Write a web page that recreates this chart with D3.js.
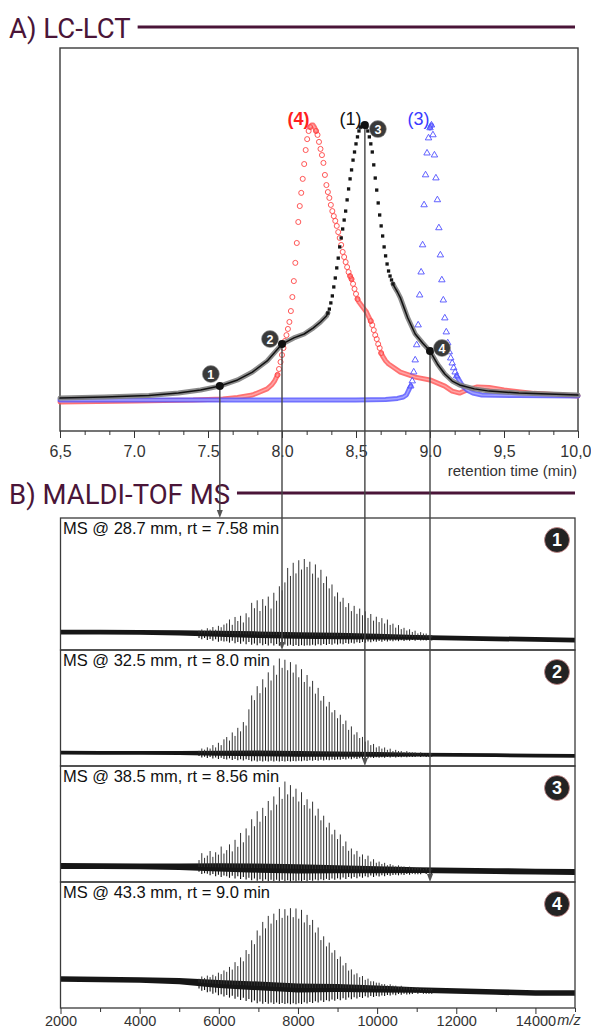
<!DOCTYPE html>
<html>
<head>
<meta charset="utf-8">
<script src="https://cdn.jsdelivr.net/npm/d3@7"></script>
<style>
  body { margin: 0; background: #fff; }
  svg { display: block; font-family: "Liberation Sans", Arial, sans-serif; }
  .section { font-family: Roboto, "Liberation Sans", sans-serif; font-size: 27.5px; fill: #4a1538; }
  .tick text { fill: #333; }
  .tick line { stroke: #333; }
</style>
</head>
<body>
<div id="chart"></div>
<script>
// ---- A) LC-LCT traces: [retention time (min), intensity (% of max)]
const trace1 = [[6.5,2.1],[6.8,2.5],[7.1,3.0],[7.3,3.9],[7.45,5.0],[7.58,6.4],[7.7,8.6],[7.8,11.4],[7.9,15.4],[8.0,21.4],[8.08,23.6],[8.15,25.0],[8.21,27.1],[8.26,29.3],[8.3,31.4],[8.31,32.5],[8.32,33.9],[8.33,36.1],[8.34,38.6],[8.35,41.8],[8.36,45.0],[8.37,48.6],[8.38,52.1],[8.39,56.1],[8.4,59.3],[8.41,62.5],[8.42,65.7],[8.43,68.9],[8.44,72.9],[8.45,76.8],[8.46,80.4],[8.47,83.6],[8.48,87.1],[8.49,90.0],[8.5,92.9],[8.51,95.4],[8.52,97.5],[8.53,98.9],[8.54,99.6],[8.55,100],[8.56,99.6],[8.57,98.9],[8.58,97.5],[8.59,95.4],[8.6,92.9],[8.61,90.0],[8.62,85.4],[8.63,80.7],[8.64,76.4],[8.65,71.8],[8.66,67.5],[8.67,63.6],[8.68,60.0],[8.69,56.1],[8.7,52.9],[8.71,50.0],[8.72,47.5],[8.73,45.7],[8.74,44.3],[8.75,42.9],[8.76,41.8],[8.78,40.0],[8.8,37.9],[8.85,30.7],[8.9,25.0],[8.95,21.8],[9.0,18.9],[9.05,14.3],[9.1,10.7],[9.15,8.2],[9.2,6.8],[9.3,5.4],[9.4,4.6],[9.6,3.9],[9.8,3.6],[10.0,3.2]];
const trace4 = [[6.5,0.7],[7.0,1.1],[7.4,1.4],[7.6,1.8],[7.7,2.3],[7.8,3.2],[7.85,4.3],[7.9,5.4],[7.93,6.8],[7.94,7.5],[7.95,8.2],[7.96,9.3],[7.97,10.4],[7.98,12.5],[7.99,15.0],[8.0,17.5],[8.01,20.0],[8.02,22.5],[8.03,24.6],[8.04,26.8],[8.05,29.3],[8.06,33.2],[8.07,38.2],[8.08,43.9],[8.09,50.4],[8.1,57.5],[8.11,65.0],[8.12,70.7],[8.13,75.4],[8.14,80.4],[8.15,85.7],[8.16,90.7],[8.17,94.6],[8.18,97.5],[8.19,98.9],[8.2,99.6],[8.21,99.6],[8.22,98.8],[8.23,97.5],[8.24,96.1],[8.25,93.6],[8.26,91.1],[8.27,88.9],[8.28,86.1],[8.29,81.8],[8.3,78.2],[8.31,75.7],[8.32,73.6],[8.33,71.1],[8.34,68.9],[8.35,67.1],[8.36,65.4],[8.37,63.6],[8.38,61.4],[8.39,59.3],[8.4,56.8],[8.41,54.3],[8.42,52.5],[8.43,50.7],[8.44,48.9],[8.45,47.1],[8.46,45.7],[8.47,44.6],[8.48,42.9],[8.49,41.1],[8.5,39.3],[8.51,37.5],[8.52,36.4],[8.53,35.7],[8.54,35.0],[8.55,34.3],[8.56,33.6],[8.57,32.9],[8.58,31.8],[8.59,30.7],[8.6,29.6],[8.61,28.2],[8.62,26.4],[8.63,24.6],[8.64,23.2],[8.65,21.4],[8.66,20.0],[8.67,18.2],[8.68,17.1],[8.7,15.4],[8.72,14.3],[8.75,13.2],[8.8,11.4],[8.9,9.6],[9.0,8.6],[9.1,6.4],[9.15,4.6],[9.2,3.9],[9.25,5.0],[9.32,6.1],[9.4,5.9],[9.5,5.0],[9.7,3.8],[10.0,2.9]];
const trace3 = [[6.5,1.4],[7.5,1.4],[8.0,1.4],[8.5,1.4],[8.7,1.6],[8.78,2.0],[8.82,2.5],[8.84,3.2],[8.85,4.3],[8.86,5.4],[8.87,6.4],[8.88,8.2],[8.89,11.4],[8.9,15.7],[8.91,21.1],[8.92,28.2],[8.93,38.9],[8.94,47.1],[8.95,56.8],[8.96,71.1],[8.97,81.8],[8.98,89.6],[8.99,95.0],[9.0,98.6],[9.01,99.6],[9.02,96.1],[9.03,88.9],[9.04,80.7],[9.05,72.9],[9.06,62.9],[9.07,53.2],[9.08,44.3],[9.09,37.1],[9.1,30.7],[9.11,25.7],[9.12,21.8],[9.13,18.6],[9.14,16.4],[9.15,14.6],[9.16,12.9],[9.17,11.4],[9.18,10.0],[9.2,8.2],[9.22,6.4],[9.25,5.0],[9.29,3.9],[9.35,3.2],[9.6,3.0],[10.0,2.9]];

const rtTicks = [6.5, 7.0, 7.5, 8.0, 8.5, 9.0, 9.5, 10.0];
const rtLabels = ["6,5", "7.0", "7.5", "8.0", "8,5", "9.0", "9,5", "10,0"];

// ---- B) MALDI-TOF spectra, one entry per fraction
const msRt = [7.58, 8.0, 8.56, 9.0];
const msLabels = ["MS @ 28.7 mm, rt = 7.58 min", "MS @ 32.5 mm, rt = 8.0 min", "MS @ 38.5 mm, rt = 8.56 min", "MS @ 43.3 mm, rt = 9.0 min"];

const mzGrid = [2000, 3000, 4000, 5000, 6000, 7000, 8000, 9000, 10000, 11000, 12000, 13000, 14000, 15000];
const msBase = [
  [13.6, 13.5, 13.3, 13.0, 12.3, 11.6, 11.0, 10.6, 10.2, 9.6, 9.0, 8.5, 8.0, 7.5],
  [11.5, 11.4, 11.3, 11.2, 11.0, 10.8, 10.5, 10.2, 10.0, 9.8, 9.6, 9.3, 9.0, 8.8],
  [13.8, 13.6, 13.4, 13.2, 12.6, 12.0, 11.4, 11.0, 10.6, 10.2, 9.8, 9.4, 9.0, 8.6],
  [23.0, 22.6, 22.2, 21.4, 19.0, 17.5, 15.9, 15.9, 15.1, 14.3, 13.5, 12.7, 11.9, 11.9]
];
const msNoiseUp = [
  [1.8, 1.8, 1.8, 2.0, 2.2, 2.5, 2.5, 2.5, 2.2, 1.8, 1.8, 1.8, 1.8, 1.8],
  [1.6, 1.6, 1.6, 1.8, 2.2, 2.5, 2.5, 2.2, 2.0, 1.6, 1.6, 1.6, 1.6, 1.6],
  [2.5, 2.5, 2.5, 2.8, 3.5, 4.0, 4.0, 3.5, 3.0, 2.5, 2.5, 2.5, 2.5, 2.5],
  [2.2, 2.2, 2.2, 2.5, 3.2, 3.5, 3.5, 3.2, 2.8, 2.2, 2.2, 2.2, 2.2, 2.2]
];
const msNoiseDown = [
  [1.8, 1.8, 1.8, 2.5, 6, 8, 8, 6.5, 4, 2.5, 1.8, 1.8, 1.8, 1.8],
  [1.6, 1.6, 1.6, 2, 5, 7, 6.5, 5, 3, 2, 1.6, 1.6, 1.6, 1.6],
  [2.5, 2.5, 2.5, 3.5, 8, 11, 11, 9, 6, 3.5, 2.5, 2.5, 2.5, 2.5],
  [2.2, 2.2, 2.2, 3, 9, 14, 13, 10, 6, 3, 2.2, 2.2, 2.2, 2.2]
];

// oligomer peak heights above baseline, m/z 5500, 5570, 5640 ... (repeat unit 70)
const peakStart = 5500, peakStep = 70;
const msPeaks = [
  [2,3,2,4,3,5,3,6,5,7, 8,11,7,13,10,14,9,16,13,24, 20,26,18,27,22,29,20,32,26,37, 34,40,51,45,55,47,57,50,58,52,
   56,47,54,44,50,40,45,36,39,30, 33,26,29,22,25,19,23,17,21,16, 19,14,17,12,15,11,14,10,13,9, 10,7,9,6,7,5,6,4,5,3,4,3,3,2,2],
  [2,4,3,5,4,7,5,9,7,12, 14,11,18,15,22,19,27,24,38,50, 46,58,52,64,57,70,63,76,68,82, 74,81,72,79,70,77,66,73,62,68,
   58,63,52,57,46,50,41,45,36,38, 31,34,26,29,21,24,17,19,14,15, 11,12,8,9,6,7,5,6,4,5, 3,4,3,3,2,3,2,2,2,1,2,1,1,1,1],
  [6,12,8,10,14,9,13,11,18,12, 15,20,14,24,18,30,22,34,28,42, 36,49,40,52,45,58,50,62,55,70, 60,75,64,72,62,69,58,66,55,60,
   52,58,46,52,42,46,36,40,30,34, 26,30,20,24,16,18,13,16,11,13, 9,12,7,9,6,7,5,6,4,5, 4,3,4,3,3,2,3,2,2,2,2,1,2,1,1],
  [3,5,4,6,5,7,6,9,8,11, 10,14,12,18,15,22,19,28,25,36, 33,44,40,51,46,56,50,58,53,62, 55,62,57,63,56,63,55,62,52,58,
   50,54,44,48,38,41,33,36,28,30, 23,25,18,20,14,15,11,12,9,10, 7,8,6,6,5,5,4,4,3,4, 3,3,2,3,2,2,2,2,1,2,1,1,1,1,1]
];

const mzTicks = [2000, 4000, 6000, 8000, 10000, 12000, 14000];
const mzMinor = [3000, 5000, 7000, 9000, 11000, 13000, 15000];

// ---------------------------------------------------------------
const W = 591, H = 1030;
const purple = "#4a1538";
const svg = d3.select("#chart").append("svg").attr("width", W).attr("height", H);

function sectionTitle(label, baseY) {
  const t = svg.append("text").attr("class", "section").attr("x", 9).attr("y", baseY).text(label);
  const w = t.node().getComputedTextLength();
  svg.append("line")
    .attr("x1", 9 + w + 7).attr("x2", 575)
    .attr("y1", baseY - 11).attr("y2", baseY - 11)
    .attr("stroke", purple).attr("stroke-width", 3);
}
sectionTitle("A) LC-LCT", 38);
sectionTitle("B) MALDI-TOF MS", 504);

// ---- top chart
const lc = { left: 60, right: 578, top: 48, bottom: 431 };
const x = d3.scaleLinear().domain([6.5, 10]).range([lc.left, lc.right]);
const y = d3.scaleLinear().domain([0, 100]).range([404, 124]);

svg.append("rect")
  .attr("x", lc.left).attr("y", lc.top)
  .attr("width", lc.right - lc.left).attr("height", lc.bottom - lc.top)
  .attr("fill", "none").attr("stroke", "#3a3a3a").attr("stroke-width", 1.4);

svg.append("g").attr("transform", `translate(0,${lc.bottom})`)
  .call(d3.axisBottom(x).tickValues(d3.range(6.5, 10.01, 1 / 6)).tickSize(4).tickFormat(""))
  .call(g => g.select(".domain").remove());
svg.append("g").attr("transform", `translate(0,${lc.bottom})`)
  .call(d3.axisBottom(x).tickValues(rtTicks).tickSize(7).tickPadding(8).tickFormat((d, i) => rtLabels[i]))
  .call(g => g.select(".domain").remove())
  .call(g => g.selectAll(".tick text").attr("font-size", 16))
  .call(g => g.selectAll(".tick:last-of-type text").attr("text-anchor", "end").attr("dx", 13));

svg.append("text").attr("x", 577).attr("y", 476).attr("text-anchor", "end")
  .attr("font-size", 15).attr("fill", "#333").text("retention time (min)");

const styles = {
  red:   { band: "#ff5858", core: "#ffa4a4", op: 0.85, symbol: d3.symbolCircle, size: 20, fill: "none", stroke: "#ff4545" },
  blue:  { band: "#5858ff", core: "#a4a4ff", op: 0.85, symbol: d3.symbolTriangle, size: 18, fill: "none", stroke: "#5050ff" },
  black: { band: "#808080", core: "#111", op: 0.9, symbol: d3.symbolSquare, size: 11, fill: "#151515", stroke: "none" }
};

function drawTrace(data, st) {
  const g = svg.append("g");
  const pts = data.map(d => [x(d[0]), y(d[1])]);
  // dense, steep stretches show single acquisition markers; flat stretches merge into a band
  const steep = d3.pairs(pts).map(([a, b]) => (b[0] - a[0]) < 2 && Math.abs(b[1] - a[1]) / (b[0] - a[0]) >= 2.5);
  const runs = [];
  let run = null;
  steep.forEach((s, i) => {
    if (!s) {
      if (!run) { run = [pts[i]]; runs.push(run); }
      run.push(pts[i + 1]);
    } else run = null;
  });
  const line = d3.line();
  g.selectAll(null).data(runs).join("path")
    .attr("d", line).attr("fill", "none")
    .attr("stroke", st.band).attr("stroke-width", 5).attr("opacity", st.op)
    .attr("stroke-linecap", "round").attr("stroke-linejoin", "round");
  g.selectAll(null).data(runs).join("path")
    .attr("d", line).attr("fill", "none")
    .attr("stroke", st.core).attr("stroke-width", 1.5)
    .attr("stroke-linecap", "round").attr("stroke-linejoin", "round");
  const marks = pts.filter((p, i) => steep[i - 1] || steep[i]);
  g.selectAll(null).data(marks).join("path")
    .attr("transform", p => `translate(${p[0]},${p[1]})`)
    .attr("d", d3.symbol(st.symbol, st.size))
    .attr("fill", st.fill).attr("stroke", st.stroke).attr("stroke-width", 0.9);
}
drawTrace(trace4, styles.red);
drawTrace(trace3, styles.blue);
drawTrace(trace1, styles.black);

// peak labels
const peakOf = tr => tr.reduce((a, b) => (b[1] > a[1] ? b : a));
[[trace4, "(4)", "#ff1f1f", "bold"], [trace1, "(1)", "#111", "normal"], [trace3, "(3)", "#3a3aff", "normal"]]
  .forEach(([tr, lab, col, fw]) => {
    svg.append("text").attr("x", x(peakOf(tr)[0]) - 13).attr("y", y(100) + 1)
      .attr("text-anchor", "middle").attr("font-size", 18).attr("font-weight", fw)
      .attr("fill", col).text(lab);
  });

// ---- MS panels
const msTop = [518, 650, 766, 882];
const msBottom = [650, 766, 882, 1008];
const xm = d3.scaleLinear().domain([2000, 15000]).range([60.5, 575]);

msPeaks.forEach((peaks, k) => {
  const g = svg.append("g");
  const ym = d3.scaleLinear().domain([0, 100]).range([msBottom[k], msTop[k]]);
  const baseAt = d3.scaleLinear().domain(mzGrid).range(msBase[k]);
  const downAt = d3.scaleLinear().domain(mzGrid).range(msNoiseDown[k]);
  const band = mzGrid.map((m, i) => ({ m, lo: msBase[k][i] - msNoiseUp[k][i], hi: msBase[k][i] + msNoiseUp[k][i] }));
  const sticks = peaks.map((h, i) => {
    const m = peakStart + i * peakStep;
    const local = Math.max(peaks[i - 1] || 0, h, peaks[i + 1] || 0);
    return { m, b: baseAt(m), h, d: downAt(m) * (0.45 + 0.55 * h / local) };
  });

  // downward excursions (dense, dark)
  g.selectAll(null).data(sticks).join("line")
    .attr("x1", s => xm(s.m)).attr("x2", s => xm(s.m))
    .attr("y1", s => ym(s.b - s.d)).attr("y2", s => ym(s.b))
    .attr("stroke", "#111").attr("stroke-width", 1.1);

  g.append("path").datum(band)
    .attr("d", d3.area().x(d => xm(d.m)).y0(d => ym(d.lo)).y1(d => ym(d.hi)))
    .attr("fill", "#161616");

  // oligomer peaks
  g.selectAll(null).data(sticks).join("line")
    .attr("x1", s => xm(s.m)).attr("x2", s => xm(s.m))
    .attr("y1", s => ym(s.b)).attr("y2", s => ym(s.b + s.h))
    .attr("stroke", "#333").attr("stroke-width", 1);

  g.append("rect")
    .attr("x", xm.range()[0]).attr("y", msTop[k])
    .attr("width", xm.range()[1] - xm.range()[0]).attr("height", msBottom[k] - msTop[k])
    .attr("fill", "none").attr("stroke", "#3a3a3a").attr("stroke-width", 1.3);

  g.append("text").attr("x", 63).attr("y", msTop[k] + 16)
    .attr("font-size", 16.5).attr("fill", "#111").text(msLabels[k]);

  g.append("circle").attr("cx", 557).attr("cy", msTop[k] + 22).attr("r", 12.5)
    .attr("fill", "#232323").attr("stroke", "#c88").attr("stroke-width", 0.8);
  g.append("text").attr("x", 557).attr("y", msTop[k] + 22).attr("dy", "0.36em")
    .attr("text-anchor", "middle").attr("font-size", 18).attr("font-weight", "bold")
    .attr("fill", "#fff").text(k + 1);
});

svg.append("g").attr("transform", `translate(0,${msBottom[3]})`)
  .call(d3.axisBottom(xm).tickValues(mzMinor).tickSize(4).tickFormat(""))
  .call(g => g.select(".domain").remove());
svg.append("g").attr("transform", `translate(0,${msBottom[3]})`)
  .call(d3.axisBottom(xm).tickValues(mzTicks).tickSize(6).tickPadding(2).tickFormat(d3.format("d")))
  .call(g => g.select(".domain").remove())
  .call(g => g.selectAll(".tick text").attr("font-size", 14.5));
svg.append("text").attr("x", 569).attr("y", 1025).attr("text-anchor", "middle")
  .attr("font-size", 14.5).attr("font-style", "italic").attr("fill", "#333").text("m/z");

// ---- connectors from the LC trace to the spectra
const conn = svg.append("g");
const badgeOffset = [[-9, -12], [-12, -5], [13, 4], [12, -3]];
msRt.forEach((rt, k) => {
  const p = trace1.find(d => d[0] === rt);
  const cx = x(rt), cy = y(p[1]);
  conn.append("line").attr("x1", cx).attr("x2", cx).attr("y1", cy).attr("y2", msTop[k] - 3)
    .attr("stroke", "#444").attr("stroke-width", 1.4);
  conn.append("path")
    .attr("d", `M${cx - 3},${msTop[k] - 8}L${cx + 3},${msTop[k] - 8}L${cx},${msTop[k]}Z`)
    .attr("fill", "#555");
  conn.append("circle").attr("cx", cx).attr("cy", cy).attr("r", 4).attr("fill", "#111");
  const bx = cx + badgeOffset[k][0], by = cy + badgeOffset[k][1];
  conn.append("circle").attr("cx", bx).attr("cy", by).attr("r", 8.5)
    .attr("fill", "#3a3a3a").attr("stroke", "#999").attr("stroke-width", 0.6);
  conn.append("text").attr("x", bx).attr("y", by).attr("dy", "0.36em")
    .attr("text-anchor", "middle").attr("font-size", 12.5).attr("font-weight", "bold")
    .attr("fill", "#fff").text(k + 1);
});
</script>
</body>
</html>
